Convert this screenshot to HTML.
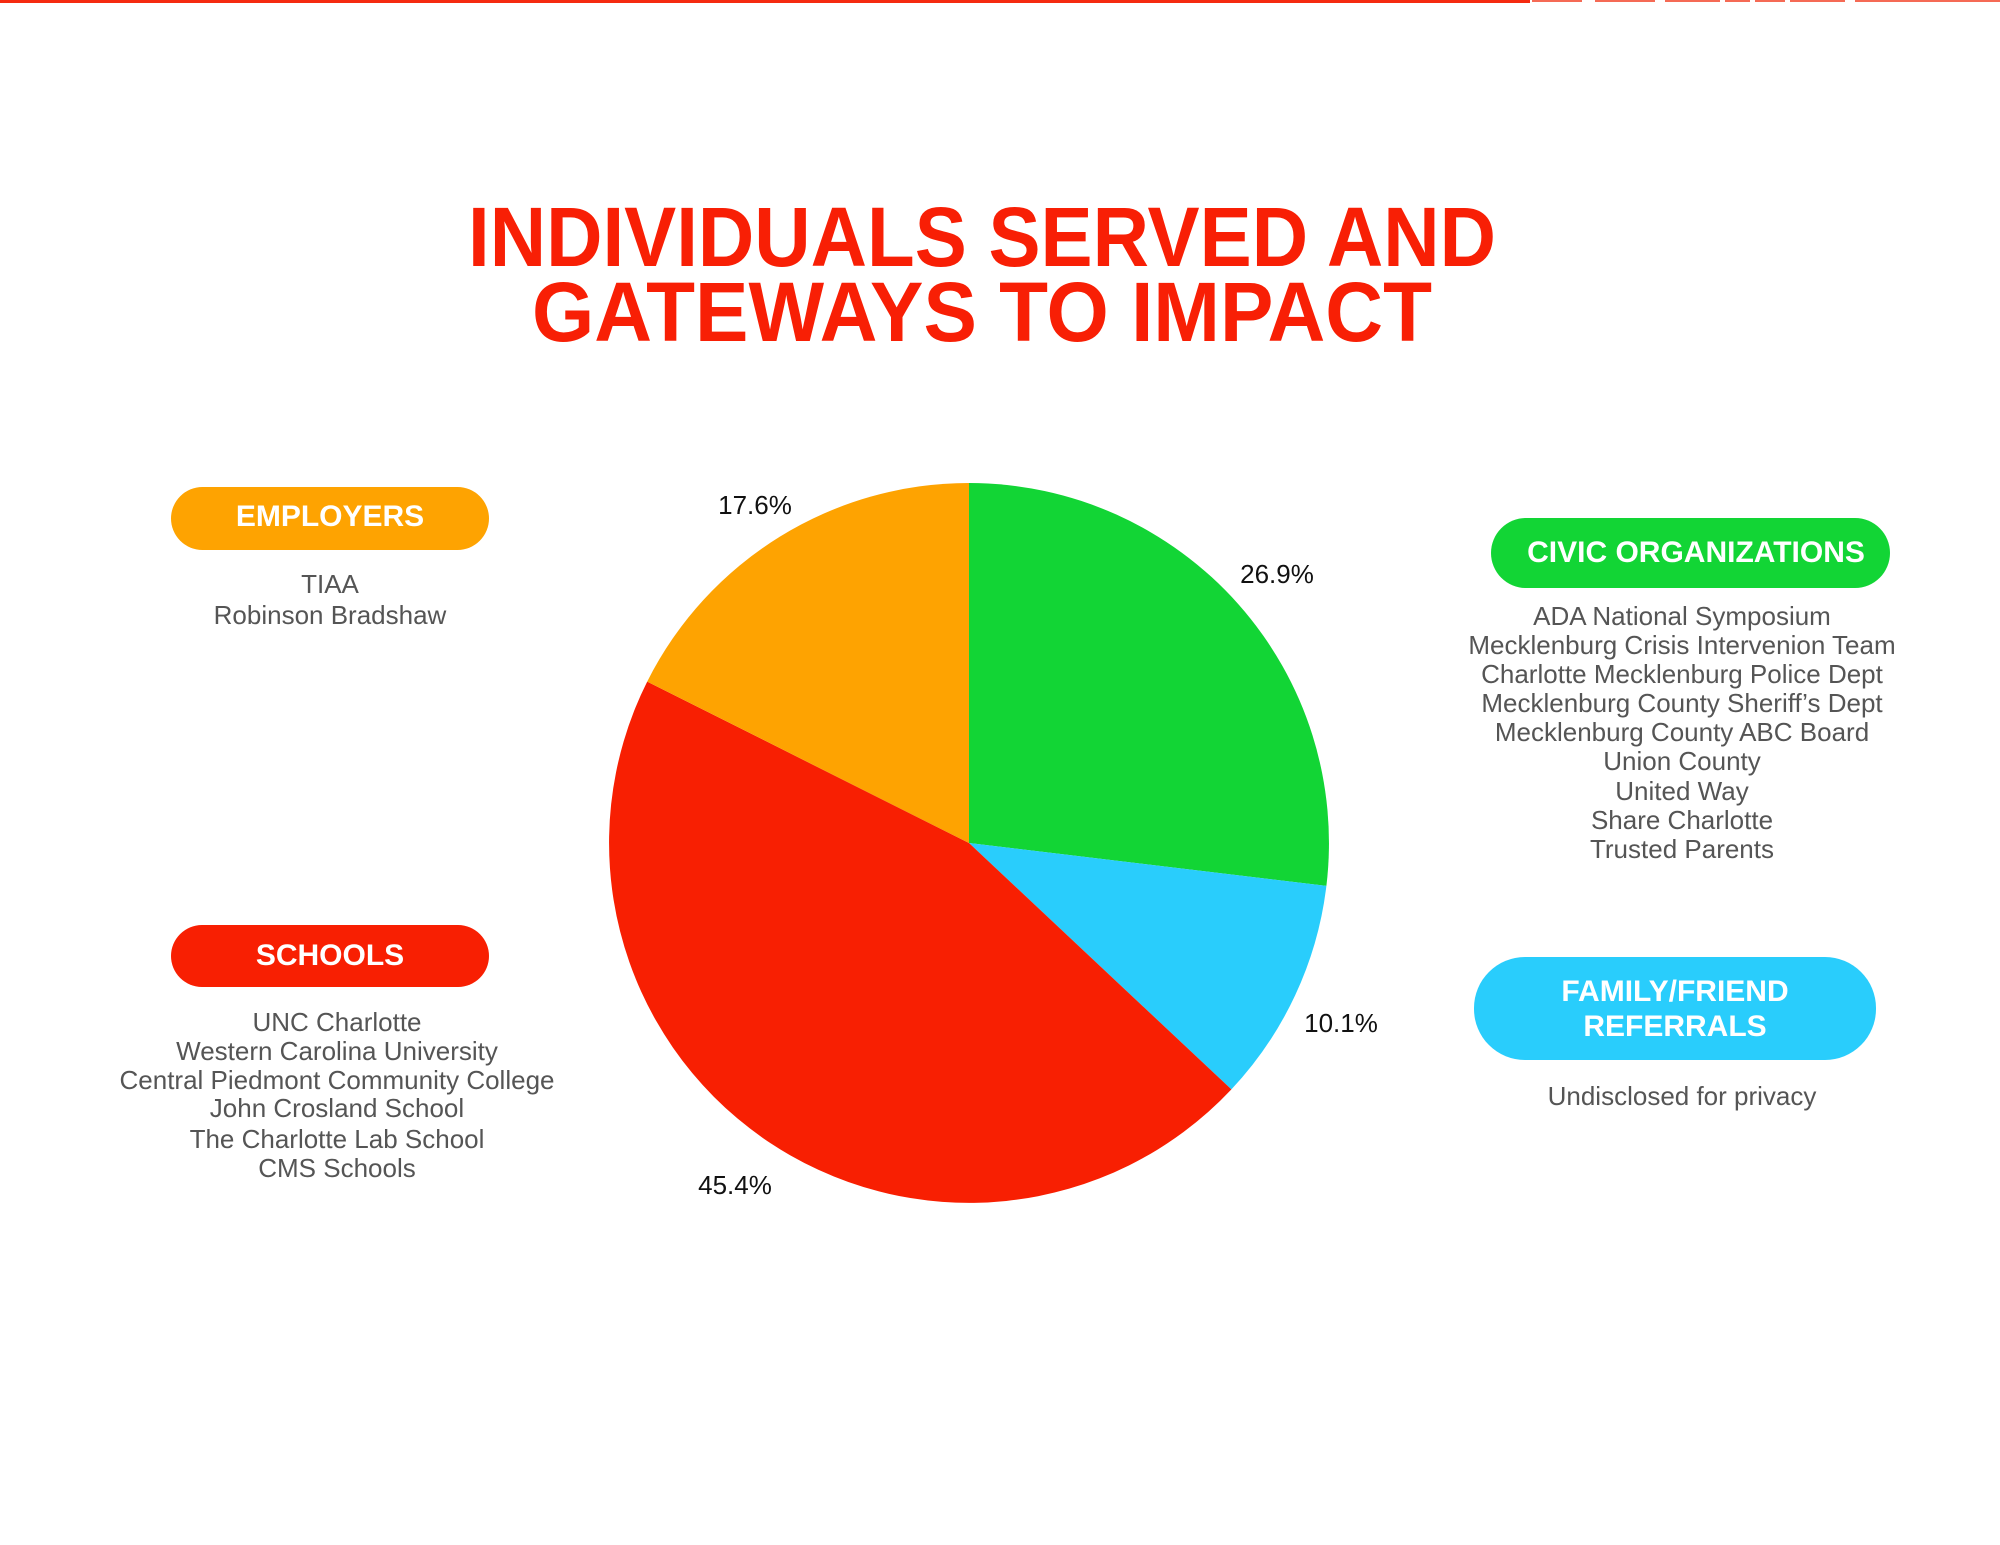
<!DOCTYPE html>
<html><head><meta charset="utf-8"><style>
html,body{margin:0;padding:0;background:#fff;}
svg{display:block;}
</style></head><body>
<svg width="2000" height="1545" viewBox="0 0 2000 1545" xmlns="http://www.w3.org/2000/svg">
<rect width="2000" height="1545" fill="#fff"/>
<rect x="0" y="0" width="1530" height="3" fill="#f52a10"/>
<g fill="#f56a55"><rect x="1532" y="0" width="50" height="2"/><rect x="1595" y="0" width="60" height="2"/><rect x="1665" y="0" width="55" height="2"/><rect x="1725" y="0" width="25" height="2"/><rect x="1755" y="0" width="30" height="2"/><rect x="1790" y="0" width="55" height="2"/><rect x="1855" y="0" width="145" height="2"/></g>

<g font-family="Liberation Sans, sans-serif" font-weight="bold" fill="#f81f05" text-anchor="middle" font-size="84">
<text x="982" y="266" textLength="1028" lengthAdjust="spacingAndGlyphs">INDIVIDUALS SERVED AND</text>
<text x="982" y="341" textLength="900" lengthAdjust="spacingAndGlyphs">GATEWAYS TO IMPACT</text>
</g>

<path d="M969 843 L969 483 A360 360 0 0 1 1326.4 885.9 Z" fill="#12d535"/>
<path d="M969 843 L1326.4 885.9 A360 360 0 0 1 1231.4 1089.4 Z" fill="#29cdfc"/>
<path d="M969 843 L1231.4 1089.4 A360 360 0 0 1 647.2 681.6 Z" fill="#f81f02"/>
<path d="M969 843 L647.2 681.6 A360 360 0 0 1 969 483 Z" fill="#fea301"/>

<g font-family="Liberation Sans, sans-serif" font-size="26" fill="#111" text-anchor="middle">
<text x="755" y="514">17.6%</text>
<text x="1277" y="583">26.9%</text>
<text x="1341" y="1032">10.1%</text>
<text x="735" y="1194">45.4%</text>
</g>

<rect x="171" y="487" width="318" height="63" rx="31.5" fill="#fea301"/>
<rect x="171" y="925" width="318" height="62" rx="31" fill="#f81f02"/>
<rect x="1491" y="518" width="399" height="70" rx="35" fill="#12d535"/>
<rect x="1474" y="957" width="402" height="103" rx="51" fill="#29cdfc"/>

<g font-family="Liberation Sans, sans-serif" font-weight="bold" font-size="30" fill="#fff" text-anchor="middle">
<text x="330" y="526">EMPLOYERS</text>
<text x="330" y="965">SCHOOLS</text>
<text x="1696" y="562">CIVIC ORGANIZATIONS</text>
<text x="1675" y="1001">FAMILY/FRIEND</text>
<text x="1675" y="1036">REFERRALS</text>
</g>

<g font-family="Liberation Sans, sans-serif" font-size="26" fill="#555" text-anchor="middle">
<text x="330" y="593">TIAA</text>
<text x="330" y="624">Robinson Bradshaw</text>
<text x="337" y="1031">UNC Charlotte</text>
<text x="337" y="1060">Western Carolina University</text>
<text x="337" y="1089">Central Piedmont Community College</text>
<text x="337" y="1117">John Crosland School</text>
<text x="337" y="1148">The Charlotte Lab School</text>
<text x="337" y="1177">CMS Schools</text>
<text x="1682" y="625">ADA National Symposium</text>
<text x="1682" y="654">Mecklenburg Crisis Intervenion Team</text>
<text x="1682" y="683">Charlotte Mecklenburg Police Dept</text>
<text x="1682" y="712">Mecklenburg  County Sheriff’s Dept</text>
<text x="1682" y="741">Mecklenburg County ABC Board</text>
<text x="1682" y="770">Union County</text>
<text x="1682" y="800">United Way</text>
<text x="1682" y="829">Share Charlotte</text>
<text x="1682" y="858">Trusted Parents</text>
<text x="1682" y="1105">Undisclosed for privacy</text>
</g>
</svg>
</body></html>
